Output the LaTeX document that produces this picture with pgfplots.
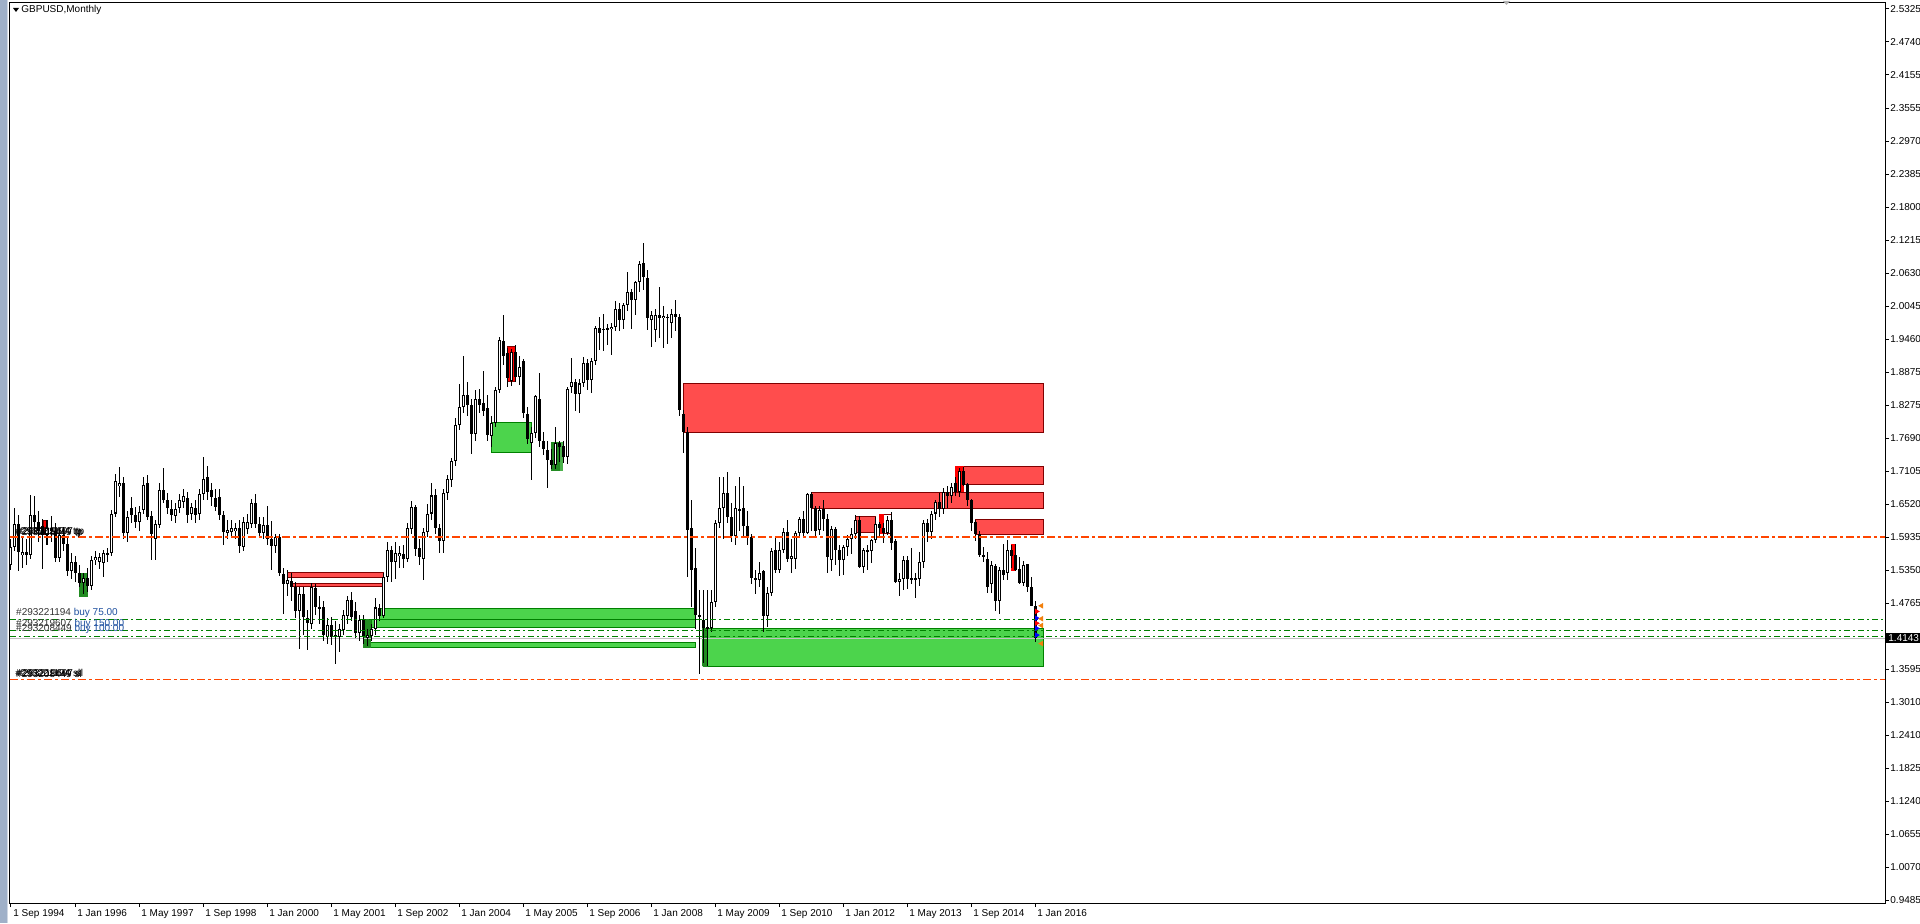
\documentclass[border=0pt]{standalone}
\usepackage{pgfplots}
\usepackage{pgfplotstable}
\pgfplotsset{compat=1.18}
\usepackage{fontspec}
\setmainfont{Liberation Sans}
\definecolor{zred}{HTML}{FF4D4D}
\definecolor{zredd}{HTML}{800000}
\definecolor{zbr}{HTML}{FF0000}
\definecolor{zgreen}{HTML}{4CD44C}
\definecolor{zgreend}{HTML}{008000}
\definecolor{zdg}{HTML}{228B22}
\definecolor{tpc}{HTML}{FF4500}
\definecolor{buyc}{HTML}{008000}
\definecolor{lblc}{HTML}{1E50A0}
\definecolor{frame}{HTML}{9FB0C8}
\newcommand{\zone}[6]{\addplot[fill=#5,draw=#6,line width=0.5pt] coordinates {(#1,#2) (#3,#2) (#3,#4) (#1,#4) (#1,#2)};}
\pgfplotstableread{
m o h l c
0 1.545 1.590 1.535 1.577
1 1.577 1.645 1.570 1.617
2 1.617 1.633 1.533 1.567
3 1.562 1.595 1.540 1.567
4 1.567 1.590 1.545 1.562
5 1.562 1.668 1.555 1.633
6 1.633 1.668 1.600 1.621
7 1.621 1.640 1.585 1.605
8 1.613 1.627 1.538 1.598
9 1.598 1.625 1.580 1.610
10 1.610 1.632 1.585 1.605
11 1.605 1.620 1.550 1.557
12 1.557 1.610 1.550 1.598
13 1.598 1.612 1.570 1.582
14 1.582 1.592 1.525 1.533
15 1.533 1.565 1.520 1.550
16 1.550 1.560 1.515 1.530
17 1.530 1.545 1.505 1.512
18 1.512 1.530 1.493 1.522
19 1.522 1.540 1.497 1.507
20 1.507 1.560 1.500 1.553
21 1.553 1.570 1.545 1.559
22 1.550 1.566 1.537 1.558
23 1.548 1.571 1.524 1.565
24 1.562 1.575 1.550 1.565
25 1.565 1.642 1.560 1.636
26 1.636 1.707 1.630 1.693
27 1.684 1.719 1.665 1.690
28 1.690 1.700 1.590 1.601
29 1.601 1.640 1.585 1.630
30 1.645 1.665 1.620 1.633
31 1.633 1.648 1.610 1.621
32 1.621 1.650 1.605 1.639
33 1.642 1.701 1.635 1.687
34 1.690 1.704 1.625 1.630
35 1.631 1.640 1.553 1.599
36 1.590 1.625 1.553 1.618
37 1.616 1.690 1.610 1.678
38 1.678 1.716 1.655 1.660
39 1.660 1.672 1.635 1.645
40 1.644 1.660 1.622 1.633
41 1.632 1.655 1.620 1.644
42 1.645 1.670 1.637 1.660
43 1.657 1.680 1.645 1.667
44 1.663 1.675 1.620 1.633
45 1.635 1.655 1.625 1.648
46 1.645 1.660 1.620 1.633
47 1.635 1.680 1.625 1.670
48 1.670 1.736 1.660 1.698
49 1.701 1.720 1.660 1.675
50 1.677 1.690 1.650 1.666
51 1.663 1.680 1.640 1.648
52 1.665 1.680 1.625 1.633
53 1.633 1.640 1.580 1.604
54 1.602 1.625 1.590 1.607
55 1.603 1.625 1.595 1.610
56 1.605 1.620 1.590 1.610
57 1.611 1.625 1.566 1.578
58 1.577 1.630 1.570 1.621
59 1.609 1.635 1.600 1.621
60 1.618 1.662 1.610 1.655
61 1.655 1.670 1.610 1.618
62 1.618 1.630 1.595 1.602
63 1.602 1.630 1.590 1.615
64 1.615 1.650 1.580 1.591
65 1.591 1.622 1.536 1.579
66 1.579 1.600 1.565 1.595
67 1.595 1.600 1.525 1.530
68 1.529 1.540 1.458 1.510
69 1.511 1.535 1.490 1.517
70 1.516 1.530 1.480 1.506
71 1.506 1.515 1.450 1.463
72 1.463 1.505 1.395 1.493
73 1.493 1.505 1.420 1.452
74 1.451 1.465 1.393 1.442
75 1.440 1.513 1.430 1.505
76 1.503 1.510 1.455 1.469
77 1.469 1.490 1.440 1.467
78 1.469 1.480 1.410 1.420
79 1.416 1.450 1.405 1.438
80 1.438 1.452 1.402 1.417
81 1.420 1.445 1.369 1.417
82 1.416 1.440 1.390 1.430
83 1.429 1.465 1.420 1.455
84 1.454 1.490 1.440 1.483
85 1.483 1.497 1.445 1.453
86 1.463 1.478 1.415 1.423
87 1.423 1.455 1.410 1.447
88 1.448 1.455 1.405 1.416
89 1.415 1.430 1.400 1.420
90 1.418 1.440 1.410 1.430
91 1.430 1.485 1.420 1.469
92 1.468 1.475 1.445 1.454
93 1.454 1.530 1.450 1.524
94 1.524 1.586 1.515 1.571
95 1.571 1.578 1.515 1.550
96 1.549 1.585 1.520 1.565
97 1.560 1.578 1.540 1.565
98 1.564 1.580 1.540 1.556
99 1.556 1.620 1.550 1.611
100 1.609 1.658 1.600 1.647
101 1.647 1.652 1.560 1.573
102 1.574 1.590 1.545 1.558
103 1.556 1.610 1.518 1.604
104 1.604 1.653 1.595 1.636
105 1.636 1.690 1.625 1.668
106 1.668 1.680 1.600 1.611
107 1.611 1.618 1.565 1.588
108 1.588 1.680 1.565 1.672
109 1.672 1.705 1.660 1.697
110 1.695 1.735 1.683 1.730
111 1.730 1.805 1.720 1.793
112 1.793 1.867 1.785 1.825
113 1.825 1.915 1.815 1.847
114 1.847 1.870 1.810 1.829
115 1.829 1.840 1.741 1.778
116 1.778 1.855 1.765 1.840
117 1.840 1.857 1.815 1.829
118 1.832 1.889 1.810 1.819
119 1.823 1.846 1.765 1.775
120 1.774 1.810 1.755 1.796
121 1.796 1.860 1.790 1.855
122 1.855 1.950 1.850 1.944
123 1.942 1.988 1.900 1.915
124 1.921 1.930 1.860 1.876
125 1.872 1.928 1.862 1.923
126 1.923 1.935 1.870 1.879
127 1.879 1.915 1.865 1.897
128 1.907 1.910 1.805 1.814
129 1.813 1.825 1.760 1.768
130 1.761 1.790 1.696 1.779
131 1.779 1.846 1.770 1.844
132 1.839 1.885 1.755 1.764
133 1.764 1.780 1.740 1.750
134 1.749 1.765 1.681 1.731
135 1.731 1.750 1.715 1.722
136 1.722 1.790 1.715 1.762
137 1.762 1.765 1.728 1.755
138 1.756 1.765 1.725 1.737
139 1.737 1.860 1.724 1.858
140 1.860 1.912 1.850 1.870
141 1.870 1.875 1.818 1.848
142 1.848 1.875 1.815 1.867
143 1.867 1.914 1.860 1.903
144 1.903 1.910 1.855 1.873
145 1.873 1.912 1.850 1.907
146 1.907 1.969 1.900 1.965
147 1.965 1.985 1.927 1.957
148 1.962 1.990 1.925 1.964
149 1.963 1.972 1.935 1.965
150 1.964 1.975 1.918 1.968
151 1.968 2.014 1.960 1.999
152 1.999 2.010 1.960 1.979
153 1.979 2.010 1.964 2.006
154 2.006 2.065 1.995 2.029
155 2.029 2.035 1.963 2.015
156 2.015 2.050 1.988 2.048
157 2.048 2.084 2.030 2.080
158 2.081 2.116 2.033 2.057
159 2.055 2.068 1.962 1.984
160 1.979 1.995 1.932 1.988
161 1.962 1.999 1.940 1.989
162 1.989 2.039 1.948 1.983
163 1.983 2.004 1.930 1.987
164 1.985 1.990 1.938 1.986
165 1.974 2.000 1.948 1.991
166 1.991 2.015 1.960 1.985
167 1.985 1.990 1.810 1.820
168 1.812 1.820 1.744 1.780
169 1.780 1.790 1.524 1.607
170 1.610 1.660 1.470 1.536
171 1.539 1.575 1.430 1.456
172 1.456 1.500 1.350 1.453
173 1.447 1.500 1.370 1.432
174 1.432 1.500 1.365 1.434
175 1.432 1.500 1.425 1.479
176 1.479 1.625 1.470 1.619
177 1.619 1.700 1.610 1.645
178 1.645 1.700 1.590 1.673
179 1.673 1.710 1.620 1.630
180 1.630 1.655 1.585 1.596
181 1.596 1.685 1.580 1.645
182 1.644 1.700 1.605 1.641
183 1.645 1.685 1.595 1.614
184 1.613 1.640 1.580 1.594
185 1.595 1.600 1.510 1.521
186 1.521 1.535 1.493 1.518
187 1.518 1.550 1.505 1.530
188 1.534 1.535 1.425 1.453
189 1.453 1.505 1.435 1.494
190 1.494 1.575 1.490 1.570
191 1.571 1.595 1.530 1.535
192 1.535 1.585 1.530 1.572
193 1.572 1.610 1.565 1.603
194 1.604 1.625 1.550 1.556
195 1.556 1.590 1.530 1.560
196 1.556 1.605 1.538 1.601
197 1.601 1.630 1.595 1.626
198 1.626 1.640 1.595 1.602
199 1.602 1.673 1.600 1.670
200 1.670 1.675 1.605 1.645
201 1.645 1.650 1.595 1.605
202 1.607 1.650 1.597 1.642
203 1.644 1.660 1.605 1.626
204 1.626 1.635 1.530 1.559
205 1.554 1.613 1.533 1.608
206 1.608 1.612 1.545 1.571
207 1.571 1.580 1.525 1.553
208 1.553 1.580 1.527 1.577
209 1.577 1.598 1.560 1.591
210 1.591 1.610 1.564 1.600
211 1.600 1.633 1.590 1.625
212 1.625 1.632 1.540 1.541
213 1.541 1.575 1.530 1.571
214 1.571 1.580 1.535 1.569
215 1.569 1.590 1.548 1.589
216 1.589 1.630 1.583 1.617
217 1.617 1.621 1.593 1.611
218 1.611 1.620 1.583 1.601
219 1.601 1.631 1.598 1.625
220 1.625 1.638 1.572 1.584
221 1.588 1.590 1.512 1.515
222 1.515 1.530 1.490 1.520
223 1.520 1.560 1.500 1.553
224 1.553 1.560 1.502 1.519
225 1.519 1.575 1.510 1.521
226 1.521 1.530 1.485 1.520
227 1.520 1.567 1.508 1.550
228 1.550 1.625 1.540 1.620
229 1.620 1.626 1.586 1.604
230 1.604 1.640 1.590 1.636
231 1.636 1.660 1.625 1.656
232 1.656 1.672 1.630 1.644
233 1.644 1.682 1.635 1.675
234 1.675 1.684 1.646 1.667
235 1.667 1.690 1.655 1.683
236 1.690 1.700 1.668 1.675
237 1.675 1.717 1.666 1.712
238 1.712 1.718 1.684 1.687
239 1.688 1.690 1.650 1.660
240 1.660 1.662 1.605 1.620
241 1.621 1.625 1.587 1.600
242 1.600 1.605 1.558 1.562
243 1.562 1.577 1.550 1.558
244 1.556 1.568 1.495 1.506
245 1.511 1.551 1.495 1.545
246 1.542 1.546 1.463 1.481
247 1.481 1.541 1.457 1.536
248 1.536 1.582 1.518 1.527
249 1.531 1.589 1.517 1.571
250 1.571 1.580 1.540 1.560
251 1.563 1.582 1.533 1.535
252 1.537 1.559 1.510 1.513
253 1.513 1.551 1.507 1.545
254 1.546 1.547 1.497 1.505
255 1.505 1.524 1.472 1.472
256 1.472 1.481 1.408 1.4143
}\candles
\begin{document}
\begin{tikzpicture}[font=\fontsize{5pt}{6pt}\selectfont]
\useasboundingbox (0,0) rectangle (960pt,461.5pt);
\fill[white] (0,0) rectangle (960pt,461.5pt);
\fill[frame] (0,0) rectangle (3.5pt,461.5pt);
\fill[frame!50] (3.5pt,0) rectangle (4.2pt,461.5pt);
\begin{axis}[
  at={(5pt,10pt)}, anchor=south west, scale only axis,
  width=937.5pt, height=450pt,
  xmin=-0.25, xmax=468.5, ymin=0.9439, ymax=2.5431,
  axis line style={line width=0.5pt, black},
  ytick pos=right, xtick pos=bottom, tick align=outside,
  major tick length=2pt, tick style={black, line width=0.5pt},
  ytick={2.5325,2.47383,2.41517,2.3565,2.29783,2.23917,2.1805,2.12183,2.06317,2.0045,1.94583,1.88717,1.8285,1.76983,1.71117,1.6525,1.59383,1.53517,1.4765,1.41783,1.35917,1.3005,1.24183,1.18317,1.1245,1.06583,1.00717,0.9485},
  yticklabels={2.5325,2.4740,2.4155,2.3555,2.2970,2.2385,2.1800,2.1215,2.0630,2.0045,1.9460,1.8875,1.8275,1.7690,1.7105,1.6520,1.5935,1.5350,1.4765,{},1.3595,1.3010,1.2410,1.1825,1.1240,1.0655,1.0070,0.9485},
  xtick={0,16,...,256},
  xticklabels={1 Sep 1994,1 Jan 1996,1 May 1997,1 Sep 1998,1 Jan 2000,1 May 2001,1 Sep 2002,1 Jan 2004,1 May 2005,1 Sep 2006,1 Jan 2008,1 May 2009,1 Sep 2010,1 Jan 2012,1 May 2013,1 Sep 2014,1 Jan 2016},
  xticklabel style={anchor=north west, inner sep=0pt, xshift=1pt, yshift=-1pt},
  yticklabel style={anchor=west, inner sep=0pt, xshift=0.5pt},
  clip=true,
]
% zones
\zone{168.0}{1.7803}{258}{1.8673}{zred}{zredd}
\zone{200.2}{1.6452}{258}{1.6737}{zred}{zredd}
\zone{211.0}{1.6019}{216.2}{1.6315}{zred}{zredd}
\zone{217.0}{1.6001}{220.2}{1.6351}{white}{zredd}
\zone{217.0}{1.6001}{218.0}{1.6351}{zbr}{zbr}
\zone{236.1}{1.6879}{258}{1.7199}{zred}{zredd}
\zone{236.1}{1.6747}{238.0}{1.7199}{zbr}{zbr}
\zone{241.1}{1.5990}{258}{1.6257}{zred}{zredd}
\zone{250.0}{1.5344}{251.2}{1.5818}{zbr}{zbr}
\zone{172.9}{1.3650}{258}{1.4320}{zgreen}{zgreend}
\zone{172.9}{1.3650}{174.0}{1.4320}{zdg}{zdg}
\zone{92.1}{1.4468}{171}{1.4676}{zgreen}{zgreend}
\zone{90.0}{1.4331}{171}{1.4468}{zgreen}{zgreend}
\zone{89.9}{1.3983}{171}{1.4071}{zgreen}{zgreend}
\zone{88.1}{1.3983}{89.9}{1.4480}{zdg}{zdg}
\zone{69.1}{1.5226}{93.1}{1.5315}{zred}{zredd}
\zone{70.0}{1.5059}{93.1}{1.5120}{zred}{zredd}
\zone{120.0}{1.7448}{130.0}{1.7981}{zgreen}{zgreend}
\zone{124.0}{1.8702}{126.2}{1.9331}{zbr}{zredd}
\zone{135.1}{1.7120}{137.25}{1.7625}{zdg}{zdg}
\zone{137.25}{1.7120}{137.9}{1.7625}{gray!60!green}{gray!60!green}
\zone{17.0}{1.4882}{19.1}{1.5297}{zdg}{zdg}
\zone{8.1}{1.5988}{9.1}{1.6227}{zbr}{zredd}
% bid line
\addplot[color={rgb,255:red,192;green,192;blue,192}, line width=0.5pt] coordinates {(-0.25,1.4143) (468.5,1.4143)};
% wicks
\addplot[draw=none, mark=none, error bars/.cd, y dir=both, y explicit, error mark=none, error bar style={draw=black, line width=0.5pt}]
  table[x=m, y expr={(\thisrow{h}+\thisrow{l})/2}, y error expr={(\thisrow{h}-\thisrow{l})/2}] {\candles};
% bearish bodies
\addplot[draw=none, mark=none, restrict expr to domain={\thisrow{c}-\thisrow{o}}{-10:0}, error bars/.cd, y dir=both, y explicit, error mark=none, error bar style={draw=black, line width=1.5pt}]
  table[x=m, y expr={(\thisrow{o}+\thisrow{c})/2}, y error expr={max(abs(\thisrow{o}-\thisrow{c})/2,0.0009)}] {\candles};
% bullish bodies outline
\addplot[draw=none, mark=none, restrict expr to domain={\thisrow{c}-\thisrow{o}}{0.00001:10}, error bars/.cd, y dir=both, y explicit, error mark=none, error bar style={draw=black, line width=1.5pt}]
  table[x=m, y expr={(\thisrow{o}+\thisrow{c})/2}, y error expr={abs(\thisrow{o}-\thisrow{c})/2}] {\candles};
\addplot[draw=none, mark=none, restrict expr to domain={\thisrow{c}-\thisrow{o}}{0.00001:10}, error bars/.cd, y dir=both, y explicit, error mark=none, error bar style={draw=white, line width=0.5pt}]
  table[x=m, y expr={(\thisrow{o}+\thisrow{c})/2}, y error expr={max(abs(\thisrow{o}-\thisrow{c})/2-0.0018,0)}] {\candles};
% horizontal order lines
\addplot[tpc, line width=1pt, dash pattern=on 4pt off 1.5pt on 1.5pt off 1.5pt] coordinates {(-0.25,1.5940) (468.5,1.5940)};
\addplot[tpc, line width=0.5pt, dash pattern=on 4pt off 1.5pt on 1.5pt off 1.5pt] coordinates {(-0.25,1.3414) (468.5,1.3414)};
\addplot[buyc, line width=0.5pt, dash pattern=on 3pt off 1.5pt on 1pt off 1.5pt] coordinates {(-0.25,1.4485) (468.5,1.4485)};
\addplot[buyc, line width=0.5pt, dash pattern=on 3pt off 1.5pt on 1pt off 1.5pt] coordinates {(-0.25,1.4285) (468.5,1.4285)};
\addplot[buyc, line width=0.5pt, dash pattern=on 3pt off 1.5pt on 1pt off 1.5pt] coordinates {(-0.25,1.4178) (468.5,1.4178)};
% trade arrows
\addplot[only marks, mark=triangle*, mark size=1.2pt, mark options={rotate=-90, fill=red, draw=red}] coordinates {(256.4,1.462) (256.4,1.441)};
\addplot[only marks, mark=triangle*, mark size=1.2pt, mark options={rotate=-90, fill=blue, draw=blue}] coordinates {(256.4,1.450) (256.4,1.432) (256.4,1.420)};
\addplot[only marks, mark=triangle*, mark size=1.2pt, mark options={rotate=90, fill=orange!80!brown, draw=orange!80!brown}] coordinates {(257.6,1.472) (257.6,1.449) (257.6,1.437) (257.6,1.405)};
% labels
\node[anchor=west, inner sep=0pt] at (axis cs:1.2,1.4592) {\textcolor{black!80}{\#293221194} \textcolor{lblc}{buy 75.00}};
\node[anchor=west, inner sep=0pt] at (axis cs:1.2,1.4395) {\textcolor{black!80}{\#293219607} \textcolor{lblc}{buy 150.00}};
\node[anchor=west, inner sep=0pt] at (axis cs:1.2,1.4310) {\textcolor{black!80}{\#293208449} \textcolor{lblc}{buy 100.00}};
\node[anchor=west, inner sep=0pt] at (axis cs:1.0,1.6026) {\#293221194 tp};
\node[anchor=west, inner sep=0pt] at (axis cs:1.5,1.6031) {\#293219607 tp};
\node[anchor=west, inner sep=0pt] at (axis cs:1.2,1.6021) {\#293208449 tp};
\node[anchor=west, inner sep=0pt] at (axis cs:1.0,1.3520) {\#293221194 sl};
\node[anchor=west, inner sep=0pt] at (axis cs:1.5,1.3525) {\#293219607 sl};
\node[anchor=west, inner sep=0pt] at (axis cs:1.2,1.3515) {\#293208449 sl};
\coordinate (pb) at (axis cs:468.5,1.4143);
\end{axis}
\node[anchor=west, fill=black, text=white, inner xsep=1pt, inner ysep=0.8pt] at ([xshift=0.5pt]pb) {1.4143};
\fill[black] (6.5pt,457.5pt) -- (9.5pt,457.5pt) -- (8pt,455.5pt) -- cycle;
\node[anchor=west, inner sep=0pt] at (10.5pt,456.3pt) {GBPUSD,Monthly};
\fill[gray!60] (751.5pt,461pt) -- (755pt,461pt) -- (753.25pt,459pt) -- cycle;
\end{tikzpicture}
\end{document}
